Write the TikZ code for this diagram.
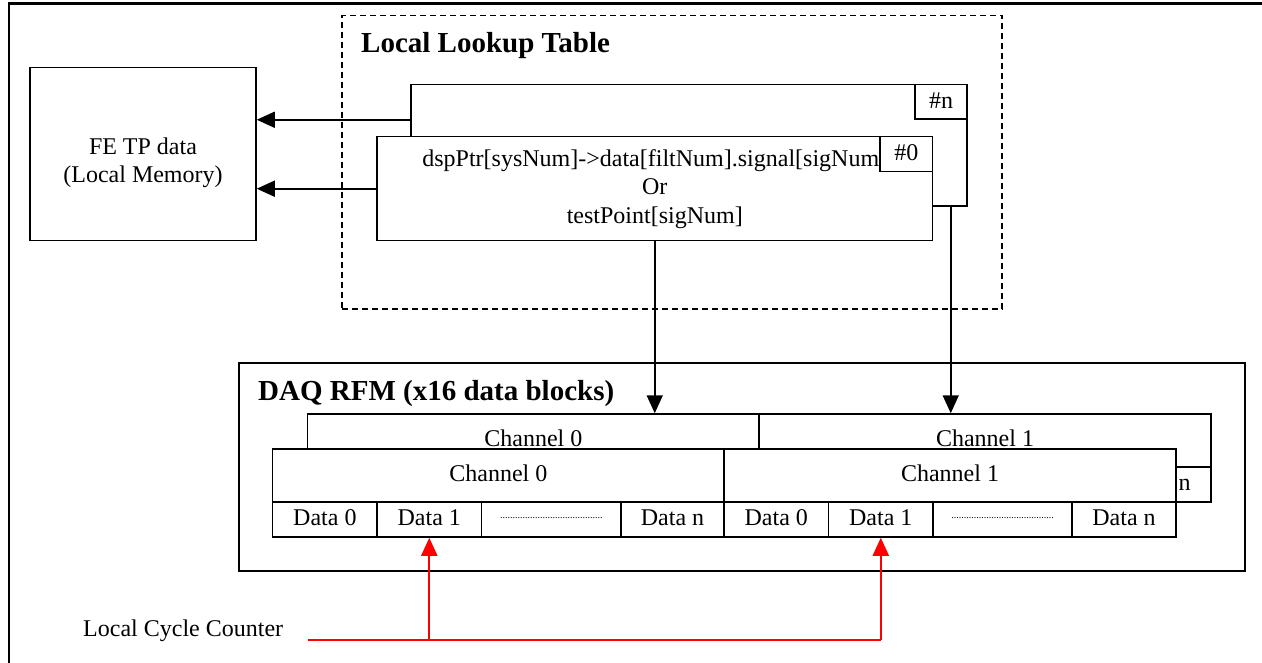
\documentclass[tikz,border=0pt]{standalone}
\usepackage{fontspec}
\setmainfont{Liberation Serif}
\usetikzlibrary{arrows.meta}

% rectangle node given by its two corners: [options]{name}{x1}{y1}{x2}{y2}{text}
\newcommand\mkcell[7][]{%
  \node[#1, minimum width={(#5)-(#3)}, minimum height={(#6)-(#4)}]
    (#2) at ({((#3)+(#5))/2},{((#4)+(#6))/2}) {#7};}

\tikzset{
  box/.style={draw, line width=1.5pt, fill=white, rectangle, inner sep=0pt},
  txt/.style={font=\fontsize{24}{28.5}\selectfont},
  cell/.style={box, txt, text height=16.5pt, text depth=4.5pt},
  dashbox/.style={draw, line width=1.5pt, dash pattern=on 6pt off 4pt, inner sep=0pt},
  ttl/.style={font=\fontsize{29}{34}\selectfont\bfseries, inner sep=0pt, anchor=base west},
  frame/.style={line width=2.4pt},
  arr/.style={line width=1.7pt, -{Triangle[length=18pt,width=16pt]}},
  redline/.style={red, line width=2pt},
  redarr/.style={redline, -{Triangle[length=18pt,width=16pt]}},
  dotcell/.style={box, font=\fontsize{10}{12}\selectfont, text height=0pt, text depth=2pt},
}

\newcommand\dotrow{.........................................}

\begin{document}
\begin{tikzpicture}[x=1pt,y=-1pt]
\useasboundingbox (0,0) rectangle (1262,663);

% outer frame (top and left edges)
\draw[frame] (9,663) -- (9,3.5) -- (1262,3.5);

% front-end test point memory
\mkcell[box]{fe}{30}{67.3}{256}{240.7}{}
\node[txt, align=center] (felbl) at ([yshift=-9pt]fe.center) {FE TP data\\(Local Memory)};

% local lookup table
\mkcell[dashbox]{lutframe}{342}{15.3}{1002}{309}{}
\node[ttl] (luttitle) at (361,53) {Local Lookup Table};

\mkcell[box]{lutn}{411}{84.7}{967}{206}{}
\mkcell[cell, text depth=4pt]{nn}{915}{84.7}{967}{119}{\#n}
\mkcell[box, txt, align=center]{lut0}{377}{136.7}{932.5}{240.7}{dspPtr[sysNum]->data[filtNum].signal[sigNum]\\Or\\testPoint[sigNum]}
\mkcell[cell, text depth=4pt]{n0}{880}{136.7}{932.5}{171.7}{\#0}

% lookup entries point into local memory
\draw[arr] (lutn.west |- nn.south) -- (fe.east |- nn.south);
\draw[arr] (lut0.west) -- (lut0.west -| fe.east);

% DAQ reflective memory
\mkcell[draw, line width=2pt, inner sep=0pt]{daq}{238.5}{363}{1245}{571}{}
\node[ttl] (daqtitle) at (258,400) {DAQ RFM (x16 data blocks)};

% second data block (behind; only its last cell shows past the front block)
\mkcell[cell]{bch0}{307.7}{414}{759}{467}{Channel 0}
\mkcell[cell]{bch1}{759}{414}{1211}{467}{Channel 1}
\mkcell[cell]{bd00}{307.7}{467}{412}{502}{}
\mkcell[cell]{bd01}{412}{467}{516.6}{502}{}
\mkcell[cell]{bd0x}{516.6}{467}{656}{502}{}
\mkcell[cell]{bd0n}{656}{467}{759}{502}{}
\mkcell[cell]{bd10}{759}{467}{863.6}{502}{}
\mkcell[cell]{bd11}{863.6}{467}{968}{502}{}
\mkcell[cell]{bd1x}{968}{467}{1107}{502}{}
\mkcell[cell]{bd1n}{1107}{467}{1211}{502}{Data n}

% first data block (front)
\mkcell[cell]{fch0}{272.7}{449}{724}{502}{Channel 0}
\mkcell[cell]{fch1}{724}{449}{1176}{502}{Channel 1}
\mkcell[cell]{fd00}{272.7}{502}{377}{537}{Data 0}
\mkcell[cell]{fd01}{377}{502}{481.6}{537}{Data 1}
\mkcell[dotcell]{fd0x}{481.6}{502}{621}{537}{\dotrow}
\mkcell[cell]{fd0n}{621}{502}{724}{537}{Data n}
\mkcell[cell]{fd10}{724}{502}{828.6}{537}{Data 0}
\mkcell[cell]{fd11}{828.6}{502}{933}{537}{Data 1}
\mkcell[dotcell]{fd1x}{933}{502}{1072}{537}{\dotrow}
\mkcell[cell]{fd1n}{1072}{502}{1176}{537}{Data n}

% lookup entries feed the channels
\draw[arr] (lut0.south) -- (lut0.south |- bch0.north);
\coordinate (tpn) at ([xshift=-17pt]lutn.south east);
\draw[arr] (tpn) -- (tpn |- bch1.north);

% local cycle counter selects the data slot
\node[txt, inner sep=0pt, anchor=base west] (lcc) at (83,636) {Local Cycle Counter};
\coordinate (cs) at ([xshift=25pt]lcc.east |- 0,639.5);
\draw[redline] (cs) -- (cs -| fd11.south);
\draw[redarr] (cs -| fd01.south) -- (fd01.south);
\draw[redarr] (cs -| fd11.south) -- (fd11.south);
\end{tikzpicture}
\end{document}
